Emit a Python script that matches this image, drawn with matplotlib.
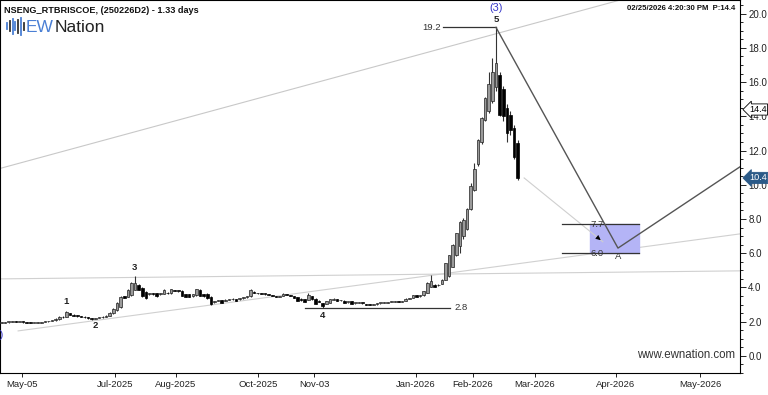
import numpy as np
import matplotlib

matplotlib.use("Agg")
import matplotlib.pyplot as plt
from matplotlib.ticker import MultipleLocator

plt.rcParams["font.family"] = ["Liberation Sans", "DejaVu Sans"]

# bar-by-bar prices (x = bar index)
opens = [1.94, 1.95, 1.97, 1.98, 2.00, 1.98, 1.98, 1.96, 1.95, 1.92,
         1.93, 1.95, 1.97, 2.01, 2.02, 2.08, 2.15, 2.30, 2.28, 2.50,
         2.40, 2.36, 2.33, 2.30, 2.25, 2.22, 2.18, 2.21, 2.25, 2.30,
         2.35, 2.50, 2.70, 2.85, 3.50, 3.45, 3.55, 3.88, 4.15, 3.95,
         3.75, 3.62, 3.63, 3.68, 3.60, 3.62, 3.70, 3.65, 3.82, 3.80,
         3.82, 3.60, 3.62, 3.48, 3.55, 3.88, 3.60, 3.62, 3.45, 3.15,
         3.22, 3.25, 3.22, 3.27, 3.30, 3.32, 3.30, 3.37, 3.42, 3.48,
         3.75, 3.68, 3.64, 3.62, 3.60, 3.55, 3.50, 3.45, 3.50, 3.60,
         3.55, 3.48, 3.45, 3.35, 3.30, 3.28, 3.50, 3.35, 3.22, 3.10,
         3.05, 3.12, 3.28, 3.32, 3.24, 3.22, 3.15, 3.20, 3.08, 3.10,
         3.10, 3.05, 3.00, 2.98, 3.02, 3.08, 3.10, 3.12, 3.15, 3.17,
         3.18, 3.16, 3.20, 3.35, 3.40, 3.55, 3.48, 3.55, 3.70, 4.05,
         4.15, 4.12, 4.20, 4.45, 4.65, 5.20, 5.90, 6.40, 7.00, 7.40,
         8.60, 9.70, 11.20, 12.50, 13.80, 14.30, 14.90, 15.70, 16.40, 15.60,
         14.50, 14.10, 13.30, 12.45]
highs = [1.97, 1.98, 2.00, 2.02, 2.01, 2.00, 1.99, 1.97, 1.96, 1.95,
         1.97, 1.99, 2.03, 2.05, 2.10, 2.20, 2.32, 2.36, 2.65, 2.52,
         2.42, 2.38, 2.35, 2.31, 2.27, 2.24, 2.24, 2.28, 2.33, 2.38,
         2.56, 2.80, 3.15, 3.50, 3.52, 3.90, 4.30, 4.64, 4.20, 4.00,
         3.80, 3.68, 3.66, 3.70, 3.65, 3.90, 3.72, 3.92, 3.85, 3.82,
         3.84, 3.62, 3.64, 3.64, 3.92, 3.92, 3.63, 3.66, 3.48, 3.22,
         3.26, 3.27, 3.30, 3.32, 3.37, 3.34, 3.38, 3.44, 3.52, 3.92,
         3.78, 3.70, 3.66, 3.64, 3.62, 3.57, 3.52, 3.50, 3.66, 3.62,
         3.57, 3.50, 3.47, 3.37, 3.32, 3.70, 3.52, 3.37, 3.25, 3.12,
         3.20, 3.32, 3.36, 3.34, 3.27, 3.24, 3.17, 3.22, 3.12, 3.14,
         3.11, 3.06, 3.01, 3.02, 3.10, 3.12, 3.14, 3.17, 3.19, 3.20,
         3.19, 3.20, 3.37, 3.38, 3.57, 3.57, 3.53, 3.82, 4.30, 4.74,
         4.18, 4.18, 4.47, 5.45, 5.92, 6.52, 7.20, 7.88, 8.05, 8.62,
         10.10, 11.30, 12.65, 13.95, 15.15, 16.60, 17.40, 19.20, 16.60, 15.80,
         14.70, 14.30, 13.50, 12.60]
lows = [1.92, 1.94, 1.95, 1.97, 1.96, 1.96, 1.94, 1.93, 1.90, 1.90,
        1.92, 1.94, 1.96, 1.99, 2.01, 2.06, 2.12, 2.22, 2.26, 2.38,
        2.33, 2.30, 2.27, 2.22, 2.18, 2.12, 2.15, 2.19, 2.23, 2.28,
        2.33, 2.45, 2.65, 2.80, 3.38, 3.42, 3.50, 3.85, 3.84, 3.45,
        3.35, 3.58, 3.58, 3.47, 3.57, 3.60, 3.62, 3.62, 3.77, 3.74,
        3.48, 3.45, 3.44, 3.46, 3.52, 3.48, 3.45, 3.32, 2.98, 3.08,
        3.18, 3.08, 3.20, 3.25, 3.28, 3.18, 3.28, 3.35, 3.40, 3.46,
        3.68, 3.62, 3.60, 3.58, 3.55, 3.48, 3.43, 3.44, 3.48, 3.55,
        3.48, 3.38, 3.18, 3.23, 3.14, 3.26, 3.28, 3.03, 3.13, 2.80,
        3.02, 3.10, 3.24, 3.18, 3.20, 3.08, 3.12, 3.03, 3.06, 3.08,
        3.05, 2.98, 2.95, 2.96, 3.00, 3.06, 3.08, 3.10, 3.13, 3.15,
        3.14, 3.15, 3.18, 3.32, 3.38, 3.43, 3.46, 3.52, 3.66, 4.02,
        4.03, 4.10, 4.18, 4.42, 4.62, 5.18, 5.85, 6.00, 6.85, 7.35,
        8.55, 9.65, 11.10, 12.40, 13.70, 14.20, 14.80, 15.50, 14.00, 13.70,
        12.50, 12.90, 11.50, 10.30]
closes = [1.95, 1.97, 1.98, 2.00, 1.98, 1.98, 1.96, 1.95, 1.92, 1.93,
          1.95, 1.97, 2.01, 2.02, 2.08, 2.17, 2.28, 2.25, 2.55, 2.40,
          2.36, 2.33, 2.30, 2.25, 2.22, 2.18, 2.21, 2.25, 2.30, 2.35,
          2.52, 2.75, 3.10, 3.45, 3.40, 3.86, 4.25, 4.25, 3.88, 3.48,
          3.40, 3.65, 3.62, 3.50, 3.62, 3.88, 3.65, 3.90, 3.80, 3.78,
          3.50, 3.47, 3.46, 3.62, 3.90, 3.52, 3.48, 3.36, 3.05, 3.18,
          3.24, 3.10, 3.27, 3.30, 3.35, 3.20, 3.37, 3.42, 3.50, 3.88,
          3.70, 3.65, 3.62, 3.60, 3.57, 3.50, 3.45, 3.47, 3.64, 3.57,
          3.50, 3.40, 3.20, 3.25, 3.16, 3.55, 3.30, 3.05, 3.15, 2.92,
          3.18, 3.30, 3.34, 3.20, 3.25, 3.10, 3.15, 3.05, 3.10, 3.12,
          3.08, 3.00, 2.98, 3.00, 3.08, 3.10, 3.12, 3.15, 3.17, 3.18,
          3.16, 3.18, 3.35, 3.35, 3.55, 3.45, 3.50, 3.80, 4.28, 4.35,
          4.05, 4.15, 4.45, 5.40, 5.90, 6.50, 7.17, 7.85, 7.95, 8.58,
          9.90, 10.90, 12.60, 13.90, 15.10, 15.90, 16.60, 17.10, 14.10, 14.00,
          13.00, 13.20, 11.60, 10.40]

# x-axis date labels (bar positions incl. projected future)
date_pos = [5.8, 31.4, 48.3, 71.1, 86.6, 114.8, 130.6, 147.8, 170.2, 193.5]
date_labels = ["May-05", "Jul-2025", "Aug-2025", "Oct-2025", "Nov-03",
               "Jan-2026", "Feb-2026", "Mar-2026", "Apr-2026", "May-2026"]

# wave count labels
wave_text = ["1", "2", "3", "4", "5"]
wave_x = [18, 25.9, 36.7, 89, 137]
wave_y = [3.15, 1.75, 5.15, 2.35, 19.68]

# projection path 5 -> A -> beyond
proj_x = [137, 170.8, 204.6]
proj_y = [19.2, 6.3, 11.05]

# trend / channel lines
upper_x, upper_y = [-0.5, 204.6], [10.95, 22.7]
lower_x, lower_y = [4.6, 204.6], [1.46, 7.13]
flat_x, flat_y = [-0.5, 204.6], [4.50, 4.97]

top_level, low_level = 19.2, 2.8
box_top, box_bot = 7.7, 6.0
last_price, prev_price = 10.4, 14.4

fig = plt.figure(figsize=(7.68, 3.95), dpi=100)
ax = fig.add_axes([0.0, 0.0557, 0.9635, 0.9443])

x = np.arange(len(opens))
o = np.array(opens)
h = np.array(highs)
l = np.array(lows)
c = np.array(closes)
up = c >= o

# channel lines
ax.plot(upper_x, upper_y, color="#c8c8c8", lw=0.8, zorder=1)
ax.plot(lower_x, lower_y, color="#d0d0d0", lw=0.8, zorder=1)
ax.plot(flat_x, flat_y, color="#d0d0d0", lw=0.8, zorder=1)

# candles
ax.vlines(x, l, h, color="#333333", lw=0.8, zorder=3)
body_lo = np.minimum(o, c)
body_h = np.maximum(np.abs(c - o), 0.05)
ax.bar(x[up], body_h[up], bottom=body_lo[up], width=0.72,
       color="#9a9a9a", edgecolor="#222222", lw=0.5, zorder=4)
ax.bar(x[~up], body_h[~up], bottom=body_lo[~up], width=0.72,
       color="black", edgecolor="black", lw=0.5, zorder=4)

# levels
ax.plot([122.3, 137], [top_level, top_level], color="#333333", lw=0.9)
ax.text(121.8, top_level, "19.2", ha="right", va="center", fontsize=6.8,
        color="#333333")
ax.plot([84.1, 124.2], [low_level, low_level], color="#333333", lw=0.9)
ax.text(125.6, low_level, "2.8", ha="left", va="center", fontsize=6.8,
        color="#333333")

# target box
ax.fill_between([163, 176.6], box_bot, box_top, color="#b4b4f6", zorder=2)
ax.plot([155.3, 176.6], [box_top, box_top], color="#333333", lw=0.9, zorder=3)
ax.plot([155.3, 176.6], [box_bot, box_bot], color="#333333", lw=0.9, zorder=3)
ax.text(163.3, box_top, "7.7", ha="left", va="center", fontsize=6.8,
        color="#333333", zorder=5)
ax.text(163.3, box_bot, "6.0", ha="left", va="center", fontsize=6.8,
        color="#333333", zorder=5)

# link from last bar to box
ax.plot([144.8, 166.6], [last_price, 6.67], color="#cfcfcf", lw=0.8, zorder=2)
ax.annotate("", xy=(166.6, 6.67), xytext=(164.6, 7.01),
            arrowprops=dict(arrowstyle="-|>", color="black", lw=0.5,
                            mutation_scale=7), zorder=6)

# projection
ax.plot(proj_x, proj_y, color="#555555", lw=1.0, zorder=5)
ax.text(170.8, 5.8, "A", ha="center", va="center", fontsize=6.8,
        color="#333333")

for t, wx, wy in zip(wave_text, wave_x, wave_y):
    ax.text(wx, wy, t, ha="center", va="center", fontsize=6.8,
            fontweight="bold", color="#222222")
ax.text(137, 20.33, "(3)", ha="center", va="center", fontsize=7.8,
        color="#3535c8")
ax.text(-1.3, 1.23, "(2)", ha="center", va="center", fontsize=7.8,
        color="#3535c8", clip_on=True)

ax.set_xlim(-0.42, 204.6)
ax.set_ylim(-1.0, 20.8)

ax.yaxis.tick_right()
ax.set_yticks(np.arange(0, 21, 2))
ax.set_yticklabels([f"{v:.1f}" for v in np.arange(0, 21, 2)])
ax.yaxis.set_minor_locator(MultipleLocator(0.5))
ax.tick_params(axis="y", which="major", length=4, width=0.7, pad=2,
               labelsize=7, colors="#222222")
ax.tick_params(axis="y", which="minor", length=2, width=0.6)
ax.set_xticks(date_pos)
ax.set_xticklabels(date_labels)
ax.tick_params(axis="x", length=3, width=0.7, pad=2, labelsize=6.8,
               colors="#222222")
for s in ax.spines.values():
    s.set_linewidth(0.8)

# price tags on the right axis
ytr = ax.get_yaxis_transform()
ax.text(1.012, prev_price, "14.4", transform=ytr, ha="left", va="center",
        fontsize=6.6, color="black", clip_on=False, zorder=10,
        bbox=dict(boxstyle="larrow,pad=0.12", fc="white", ec="black", lw=0.6))
ax.text(1.012, last_price, "10.4", transform=ytr, ha="left", va="center",
        fontsize=6.6, color="white", clip_on=False, zorder=10,
        bbox=dict(boxstyle="larrow,pad=0.12", fc="#2b5a88", ec="#2b5a88",
                  lw=0.6))

# header texts
fig.text(0.005, 0.968, "NSENG_RTBRISCOE, (250226D2) - 1.33 days",
         fontsize=6.6, fontweight="bold", color="#111111", va="baseline")
fig.text(0.957, 0.975, "02/25/2026 4:20:30 PM  P:14.4", ha="right",
         fontsize=5.6, fontweight="bold", color="#111111", va="baseline")

# logo
bar_h = [6, 10, 15, 8, 13, 17, 7]
bar_c = ["#4a7fd4", "#333333", "#4a7fd4", "#4a7fd4", "#333333", "#4a7fd4",
         "#333333"]
for k, (bh, bc) in enumerate(zip(bar_h, bar_c)):
    xx = (7 + k * 2.8) / 768
    fig.add_artist(plt.Line2D([xx, xx], [1 - (26 + bh / 2) / 395,
                                         1 - (26 - bh / 2) / 395],
                              color=bc, lw=1.3))
fig.text(26 / 768, 1 - 31.5 / 395, "EW", fontsize=12.5, color="#4a7fd4",
         va="baseline")
fig.text(55 / 768, 1 - 31.5 / 395, "Nation", fontsize=12.5, color="#222222",
         va="baseline")

ax.text(0.993, 0.048, "www.ewnation.com", transform=ax.transAxes,
        ha="right", va="center", fontsize=8.3, color="#333333")

fig.savefig("out.png", dpi=100)
